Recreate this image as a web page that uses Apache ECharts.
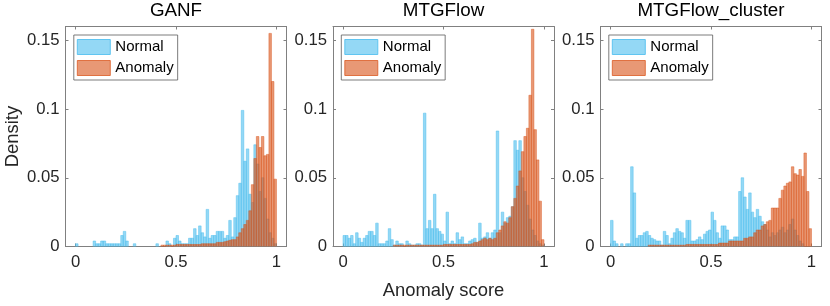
<!DOCTYPE html>
<html><head><meta charset="utf-8">
<script src="https://cdn.jsdelivr.net/npm/echarts@6/dist/echarts.min.js"></script>
<style>html,body{margin:0;padding:0;background:#fff}#c{width:830px;height:306px}</style>
</head><body><div id="c"></div>
<script>
// ---- data ----
const panelTitles = ['GANF', 'MTGFlow', 'MTGFlow_cluster'];
const seriesNames = ['Normal', 'Anomaly'];
const xTicks = [0, 0.5, 1];
const yTicks = [0, 0.05, 0.1, 0.15];
const xLabel = 'Anomaly score';
const yLabel = 'Density';
const binWidth = 0.0125; // 80 bins on [0,1]

const ganfNormal = [
 0.002,0,0,0,0,0,0,0.004,0.002,0.002,
 0.004,0.004,0.002,0.002,0.002,0.002,0.002,0.002,0.008,0.011,
 0.004,0,0,0.002,0,0,0,0,0,0,
 0,0,0.002,0,0,0,0.004,0.002,0,0.006,
 0.008,0.004,0.002,0.002,0.002,0.006,0.006,0.013,0.008,0.015,
 0.010,0.007,0.027,0.006,0.008,0.008,0.011,0.011,0.011,0.006,
 0.008,0.019,0.007,0.021,0.037,0.046,0.099,0.062,0.071,0.038,
 0.032,0.074,0.060,0.040,0.050,0.035,0.020,0.010,0.006,0.002];
const ganfAnomaly = [
 0,0,0,0,0,0,0,0,0,0,
 0,0,0,0,0,0,0,0,0,0,
 0,0,0,0,0,0,0,0,0,0,
 0,0,0,0,0.001,0.001,0.001,0.001,0.001,0.001,
 0.0015,0.0015,0.0015,0.0015,0.0015,0.0015,0.0015,0.0015,0.0015,0.0015,
 0.002,0.002,0.002,0.002,0.002,0.002,0.003,0.003,0.003,0.0035,
 0.004,0.0045,0.005,0.005,0.007,0.010,0.013,0.016,0.019,0.026,
 0.045,0.064,0.080,0.072,0.080,0.066,0.067,0.155,0.120,0.049];
const mtgNormal = [
 0.008,0.008,0.006,0.008,0.002,0.010,0.006,0.003,0.006,0.008,
 0.011,0.011,0.008,0.017,0.002,0.002,0.002,0.004,0.013,0.005,
 0.001,0.004,0.002,0.002,0,0.004,0.002,0.001,0.001,0.002,
 0.002,0.001,0.097,0.013,0.019,0.013,0.038,0.013,0.011,0.009,
 0.004,0.025,0.002,0.004,0.002,0.010,0.005,0.007,0.002,0.002,
 0.004,0.005,0.006,0.003,0.017,0.006,0.007,0.010,0.006,0.010,
 0.012,0.084,0.010,0.025,0.017,0.021,0.022,0.029,0.077,0.070,
 0.077,0.050,0.040,0.030,0.020,0.012,0.008,0.004,0.002,0.001];
const mtgAnomaly = [
 0,0,0,0,0,0,0,0,0,0,
 0,0,0,0,0,0,0,0,0,0,
 0.001,0.001,0.001,0.001,0.001,0.001,0.001,0.001,0.001,0.001,
 0.001,0.001,0.001,0.001,0.001,0.001,0.001,0.001,0.001,0.001,
 0.0015,0.0015,0.0015,0.0015,0.0015,0.0015,0.0015,0.0015,0.0015,0.0015,
 0.0015,0.002,0.003,0.003,0.004,0.005,0.006,0.005,0.006,0.005,
 0.006,0.010,0.012,0.015,0.018,0.017,0.021,0.029,0.035,0.044,
 0.055,0.069,0.080,0.086,0.110,0.158,0.085,0.063,0.033,0.005];
const clusterNormal = [
 0.019,0.004,0.002,0,0.002,0,0.002,0.002,0.058,0.039,
 0.006,0.008,0.008,0.010,0.011,0.008,0.006,0.005,0.004,0.004,
 0.001,0.011,0.008,0.002,0.006,0.010,0.013,0.011,0.010,0.006,
 0.019,0.019,0.004,0.004,0.005,0.007,0.005,0.009,0.011,0.012,
 0.025,0.019,0.010,0.006,0.015,0.015,0.012,0.005,0.005,0.007,
 0.007,0.040,0.050,0.036,0.027,0.039,0.025,0.021,0.027,0.022,
 0.018,0.016,0.012,0.007,0.010,0.008,0.010,0.012,0.014,0.010,
 0.012,0.016,0.020,0.012,0.008,0.004,0.002,0,0,0];
const clusterAnomaly = [
 0,0,0,0,0,0,0,0,0,0,
 0,0,0,0,0,0.001,0.001,0.001,0.001,0.001,
 0.001,0.001,0.001,0.001,0.001,0.001,0.001,0.001,0.001,0.001,
 0.0015,0.0015,0.0015,0.0015,0.0015,0.0015,0.0015,0.0015,0.0015,0.0015,
 0.0015,0.0015,0.0015,0.0025,0.0025,0.0025,0.0025,0.004,0.004,0.004,
 0.004,0.004,0.004,0.006,0.006,0.007,0.007,0.010,0.012,0.012,
 0.015,0.016,0.018,0.019,0.028,0.028,0.028,0.035,0.041,0.044,
 0.046,0.047,0.058,0.053,0.052,0.056,0.051,0.068,0.040,0.013];

const panelData = [[ganfNormal, ganfAnomaly], [mtgNormal, mtgAnomaly], [clusterNormal, clusterAnomaly]];

// ---- style / layout ----
const font = '"Liberation Sans", Arial, Helvetica, sans-serif';
const axisColor = '#808080';
const textColor = '#262626';
const fills = ['rgba(77,190,238,0.6)', 'rgba(217,83,25,0.6)'];
const strokes = ['rgba(77,190,238,0.85)', 'rgba(217,83,25,0.75)'];
const gridLeft = [65.5, 333, 600.5];
const gridTop = 26.5, gridW = 221, gridH = 220;
const tickFont = 16.7, labelFont = 18.4, legendFont = 15, titleFont = 18.8;

function histItem(si) {
  return function (params, api) {
    const k = api.value(0), v = api.value(1);
    if (!v) return null;
    const p0 = api.coord([k * binWidth, 0]);
    const p1 = api.coord([(k + 1) * binWidth, v]);
    return {
      type: 'rect',
      shape: { x: p0[0], y: p1[1], width: p1[0] - p0[0], height: p0[1] - p1[1] },
      style: { fill: fills[si], stroke: strokes[si], lineWidth: 0.6 }
    };
  };
}

const grid = [], xAxis = [], yAxis = [], series = [], legend = [], title = [];
for (let p = 0; p < 3; p++) {
  grid.push({ left: gridLeft[p], top: gridTop, width: gridW, height: gridH });
  const lineStyle = { color: axisColor, width: 1 };
  const baseX = { gridIndex: p, type: 'value', min: -0.05, max: 1.05, splitLine: { show: false },
    axisLine: { show: true, onZero: false, lineStyle } };
  xAxis.push(Object.assign({}, baseX, {
    position: 'bottom',
    axisTick: { show: true, inside: true, length: 3, customValues: xTicks, lineStyle },
    axisLabel: { show: true, customValues: xTicks, margin: 7, fontSize: tickFont, color: textColor, fontFamily: font,
      formatter: v => String(v) },
    name: p === 1 ? xLabel : '', nameLocation: 'middle', nameGap: 35,
    nameTextStyle: { fontSize: labelFont, color: textColor, fontFamily: font }
  }));
  xAxis.push(Object.assign({}, baseX, {
    position: 'top',
    axisTick: { show: true, inside: true, length: 3, customValues: xTicks, lineStyle },
    axisLabel: { show: false }
  }));
  const baseY = { gridIndex: p, type: 'value', min: 0, max: 0.16, splitLine: { show: false },
    axisLine: { show: true, onZero: false, lineStyle } };
  yAxis.push(Object.assign({}, baseY, {
    position: 'left',
    axisTick: { show: true, inside: true, length: 3, customValues: yTicks, lineStyle },
    axisLabel: { show: true, customValues: yTicks, margin: 6, fontSize: tickFont, color: textColor, fontFamily: font,
      formatter: v => String(v) },
    name: p === 0 ? yLabel : '', nameLocation: 'middle', nameGap: 44,
    nameTextStyle: { fontSize: labelFont, color: textColor, fontFamily: font }
  }));
  yAxis.push(Object.assign({}, baseY, {
    position: 'right',
    axisTick: { show: true, inside: true, length: 3, customValues: yTicks, lineStyle },
    axisLabel: { show: false }
  }));
  for (let si = 0; si < 2; si++) {
    series.push({
      type: 'custom', name: seriesNames[si], xAxisIndex: 2 * p, yAxisIndex: 2 * p,
      renderItem: histItem(si), clip: true, z: 2 + si,
      itemStyle: { color: fills[si], borderColor: strokes[si] },
      data: panelData[p][si].map((v, k) => [k, v])
    });
  }
  legend.push({
    left: gridLeft[p] + 8.3, top: 35, orient: 'vertical', icon: 'rect',
    itemWidth: 33, itemHeight: 15, itemGap: 5, padding: [4, 4, 4, 3],
    borderColor: '#5a5a5a', borderWidth: 0.8, backgroundColor: '#fff', borderRadius: 0,
    selectedMode: false,
    textStyle: { fontSize: legendFont, color: '#000', fontFamily: font },
    data: seriesNames.map((n, si) => ({ name: n, itemStyle: { color: fills[si], borderColor: strokes[si], borderWidth: 1 } }))
  });
  title.push({
    text: panelTitles[p], left: gridLeft[p] + gridW / 2, top: 1, textAlign: 'center', padding: 0,
    textStyle: { fontSize: titleFont, fontWeight: 'normal', color: '#000', fontFamily: font }
  });
}

const chart = echarts.init(document.getElementById('c'));
chart.setOption({ animation: false, backgroundColor: '#fff', title, legend, grid, xAxis, yAxis, series });
</script>
</body></html>
